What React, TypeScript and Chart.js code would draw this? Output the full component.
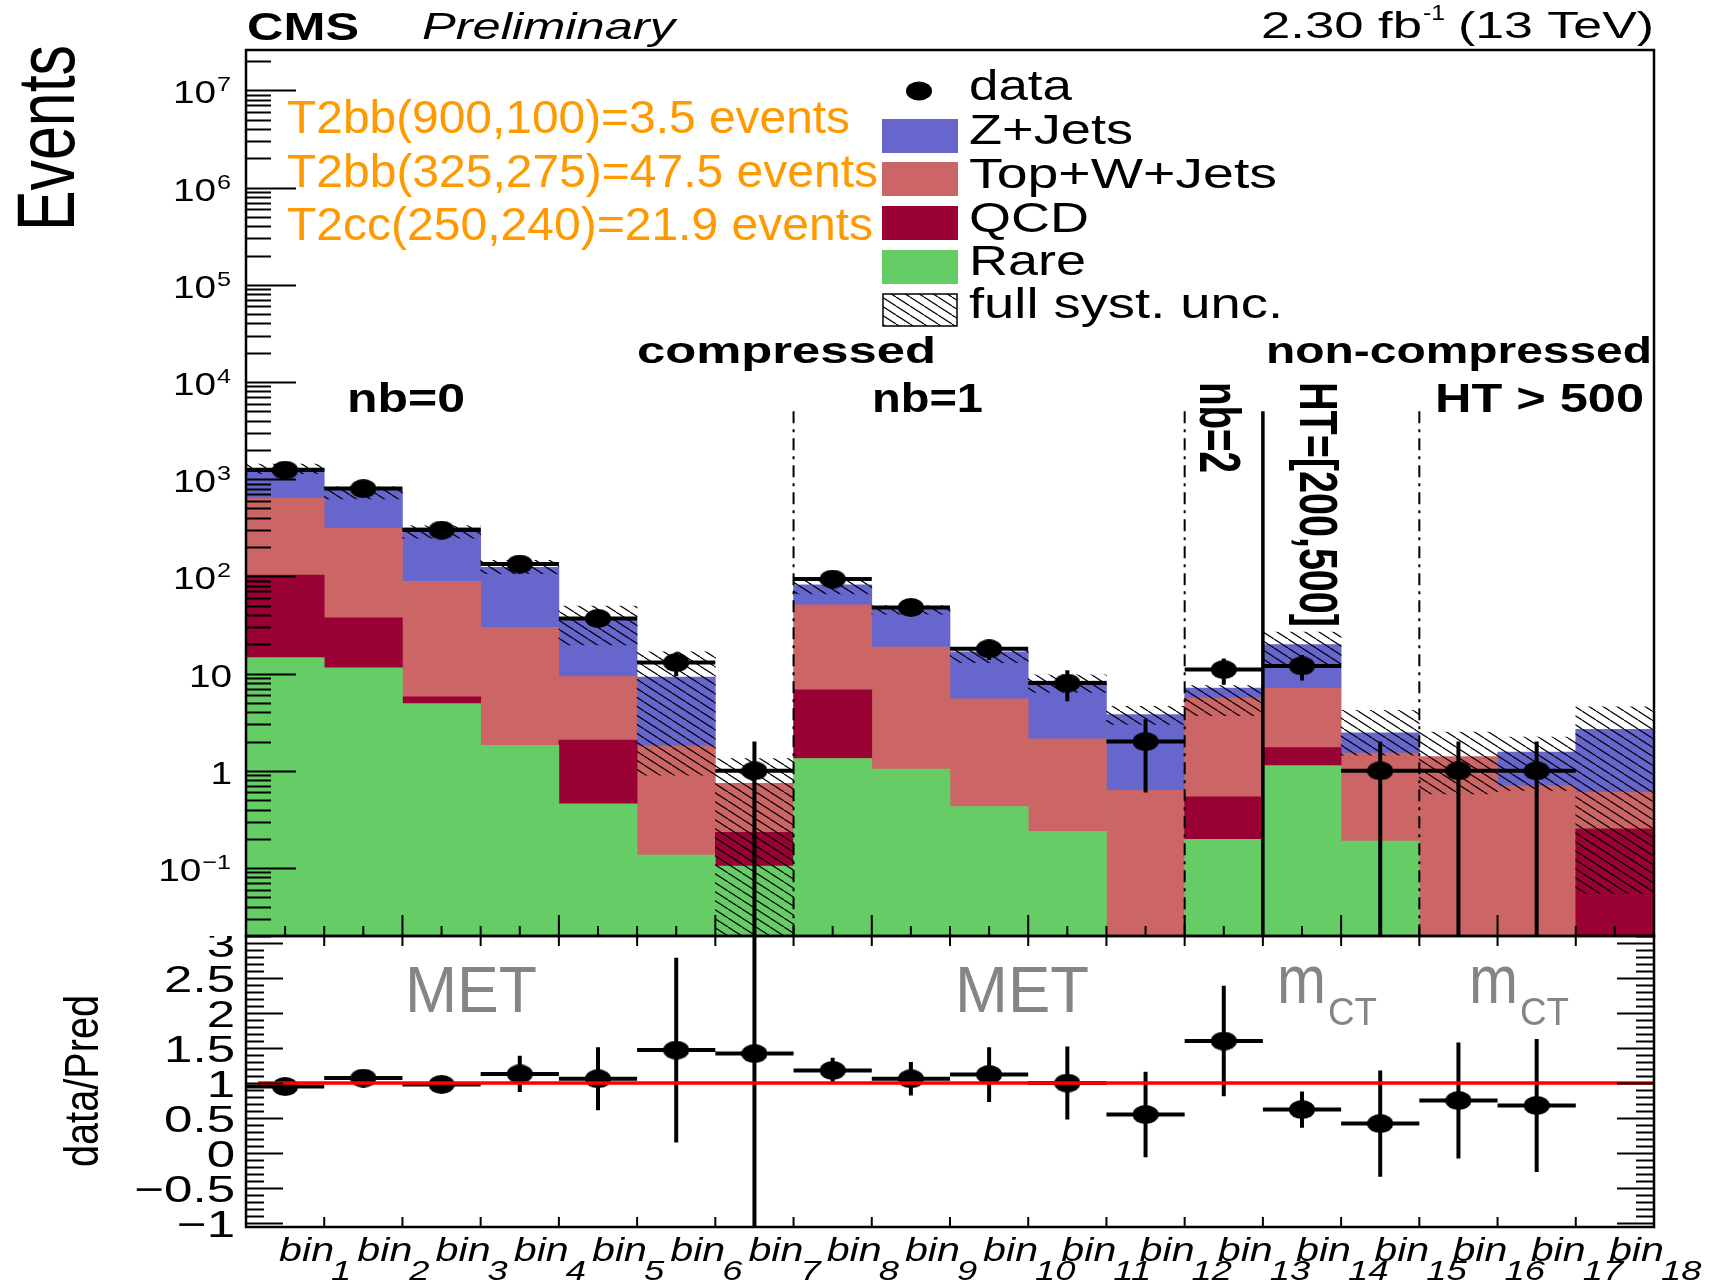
import React, { useEffect, useRef } from 'react';
import { Chart, registerables } from 'chart.js';

Chart.register(...registerables);

// ---------------- data ----------------
const BINS = ['bin1', 'bin2', 'bin3', 'bin4', 'bin5', 'bin6', 'bin7', 'bin8', 'bin9', 'bin10', 'bin11', 'bin12', 'bin13', 'bin14', 'bin15', 'bin16', 'bin17', 'bin18'];

// background components (events), stacked bottom -> top
const RARE = [14.6, 11.5, 4.92, 1.83, 0.457, 0.136, 0.105, 1.34, 1.04, 0.43, 0.239, 0, 0.197, 1.13, 0.189, 0, 0, 0];
const QCD = [88.4, 26.0, 0.85, 0, 1.62, 0, 0.128, 5.46, 0, 0, 0, 0, 0.343, 0.6, 0, 0, 0, 0.253];
const TOP_W_JETS = [531, 274.5, 83.2, 28.1, 7.22, 1.66, 0.512, 44.2, 17.76, 5.07, 1.89, 0.63, 5.06, 5.37, 1.33, 1.4, 0.7, 0.347];
const Z_JETS = [676, 459, 229, 94.1, 27.2, 7.4, 0, 31, 27.2, 11.3, 6.27, 3.17, 1.5, 12.8, 0.94, 0, 0.86, 2.08];

// full systematic uncertainty band (lower / upper edge, events)
const SYST_LO = [1140, 625, 248, 107, 19.7, 0.9, 0, 66, 41, 13, 6.4, 3.0, 3.7, 12.5, 1.45, 0.58, 0.63, 0.055];
const SYST_HI = [1430, 833, 331, 146, 49.6, 16.8, 1.34, 90, 50, 17.5, 9.7, 4.6, 7.55, 26.7, 4.2, 2.5, 2.23, 4.55];

// observed data and its uncertainty
const DATA = [1240, 800, 300, 134, 37, 13, 1, 94, 48, 18, 8, 2, 11, 12, 1, 1, 1, null];
const DATA_ERR = [35, 28, 17, 11.6, 6.1, 3.6, 1, 9.7, 6.9, 4.2, 2.8, 1.4, 3.3, 3.5, 1, 1, 1, null];

// data / prediction ratio
const RATIO = [0.95, 1.07, 0.98, 1.13, 1.06, 1.47, 1.42, 1.18, 1.06, 1.12, 1.0, 0.55, 1.6, 0.62, 0.42, 0.75, 0.68, null];
const RATIO_ERR = [0.03, 0.04, 0.04, 0.26, 0.45, 1.32, 5, 0.18, 0.24, 0.39, 0.52, 0.61, 0.79, 0.26, 0.76, 0.83, 0.95, null];

// axes
const Y_MIN = 0.02;
const Y_MAX = 2.6e7;
const Y_DECADES = [-1, 0, 1, 2, 3, 4, 5, 6, 7];
const R_MIN = -1.057;
const R_MAX = 3.1;
const R_TICKS = [-1, -0.5, 0, 0.5, 1, 1.5, 2, 2.5, 3];

// annotations
const SIGNAL_TEXT = ['T2bb(900,100)=3.5 events', 'T2bb(325,275)=47.5 events', 'T2cc(250,240)=21.9 events'];
const LEGEND_LABELS = ['data', 'Z+Jets', 'Top+W+Jets', 'QCD', 'Rare', 'full syst. unc.'];
const DASHDOT_EDGES = [7, 12, 15];
const SOLID_EDGES = [13];
const REGION_LINE_TOP = 5000;

// ---------------- styles ----------------
const C_Z = '#6666cc';
const C_TOP = '#cc6666';
const C_QCD = '#990033';
const C_RARE = '#66cc66';
const C_SIG = '#ff9900';
const C_GRAY = '#858585';
const FONT = '"Liberation Sans", Arial, Helvetica, sans-serif';

type TxtOpt = {
  size: number;
  weight?: string;
  style?: string;
  color?: string;
  width?: number;
  sx?: number;
  align?: 'left' | 'right' | 'center';
  rot?: number;
};

function txt(ctx: CanvasRenderingContext2D, s: string, x: number, y: number, o: TxtOpt): number {
  const { size, weight = 'normal', style = 'normal', color = '#000', width, sx = 1, align = 'left', rot = 0 } = o;
  ctx.save();
  ctx.translate(x, y);
  if (rot) ctx.rotate(rot);
  ctx.font = `${style} ${weight} ${size}px ${FONT}`;
  ctx.textBaseline = 'alphabetic';
  ctx.textAlign = 'left';
  const m = ctx.measureText(s).width;
  const k = width ? width / m : sx;
  ctx.scale(k, 1);
  const off = align === 'left' ? 0 : align === 'right' ? -m : -m / 2;
  ctx.fillStyle = color;
  ctx.fillText(s, off, 0);
  ctx.restore();
  return m * k;
}

function makeHatch(): CanvasPattern {
  const W = 14;
  const H = 9;
  const c = document.createElement('canvas');
  c.width = W;
  c.height = H;
  const g = c.getContext('2d') as CanvasRenderingContext2D;
  g.strokeStyle = '#000';
  g.lineWidth = 1.2;
  for (const k of [-1, 0, 1]) {
    g.beginPath();
    g.moveTo(k * W, 0);
    g.lineTo((k + 1) * W, H);
    g.stroke();
  }
  return g.createPattern(c, 'repeat') as CanvasPattern;
}

function makeDot(w: number, h: number): HTMLCanvasElement {
  const c = document.createElement('canvas');
  c.width = w;
  c.height = h;
  const g = c.getContext('2d') as CanvasRenderingContext2D;
  g.fillStyle = '#000';
  g.beginPath();
  g.ellipse(w / 2, h / 2, w / 2, h / 2, 0, 0, Math.PI * 2);
  g.fill();
  return c;
}

const COMPONENTS = [RARE, QCD, TOP_W_JETS, Z_JETS];
function floatBars(k: number) {
  return BINS.map((_, i) => {
    let lo = 0;
    for (let j = 0; j < k; j++) lo += COMPONENTS[j][i];
    const v = COMPONENTS[k][i];
    if (!v) return null;
    return [Math.max(lo, Y_MIN), lo + v];
  });
}

function makeDecor(hatch: CanvasPattern) {
  return {
    id: 'cmsDecor',
    afterDatasetsDraw(chart: any) {
      const ctx: CanvasRenderingContext2D = chart.ctx;
      const xs = chart.scales.x;
      const ys = chart.scales.y;
      const yr = chart.scales.yr;
      const ca = chart.chartArea;
      const L = ca.left;
      const R = ca.right;
      const bw = (R - L) / BINS.length;
      const edge = (k: number) => L + k * bw;

      // ---- error bars ----
      const bars = (vals: (number | null)[], errs: (number | null)[], scale: any, logClamp: boolean) => {
        ctx.save();
        ctx.beginPath();
        ctx.rect(L, scale.top, R - L, scale.bottom - scale.top);
        ctx.clip();
        ctx.strokeStyle = '#000';
        ctx.lineWidth = 4;
        ctx.lineCap = 'butt';
        vals.forEach((v, i) => {
          if (v == null) return;
          const cx = xs.getPixelForValue(i);
          const py = scale.getPixelForValue(v);
          const e = errs[i] || 0;
          const hi = scale.getPixelForValue(v + e);
          const loV = v - e;
          const lo = logClamp && loV <= Y_MIN ? scale.bottom : scale.getPixelForValue(loV);
          ctx.beginPath();
          ctx.moveTo(edge(i), py);
          ctx.lineTo(edge(i + 1), py);
          ctx.moveTo(cx, hi);
          ctx.lineTo(cx, lo);
          ctx.stroke();
        });
        ctx.restore();
      };
      bars(DATA, DATA_ERR, ys, true);
      bars(RATIO, RATIO_ERR, yr, false);

      // ---- unity line ----
      ctx.save();
      ctx.strokeStyle = '#ff0000';
      ctx.lineWidth = 3.5;
      const y1 = yr.getPixelForValue(1);
      ctx.beginPath();
      ctx.moveTo(L + 12, y1);
      ctx.lineTo(R, y1);
      ctx.stroke();
      ctx.restore();

      // ---- region separators ----
      const yStart = ys.getPixelForValue(REGION_LINE_TOP);
      ctx.save();
      ctx.strokeStyle = '#000';
      ctx.lineWidth = 2;
      ctx.setLineDash([12, 6, 3, 6]);
      for (const k of DASHDOT_EDGES) {
        ctx.beginPath();
        ctx.moveTo(edge(k), yStart);
        ctx.lineTo(edge(k), ys.bottom);
        ctx.stroke();
      }
      ctx.setLineDash([]);
      ctx.lineWidth = 3.5;
      for (const k of SOLID_EDGES) {
        ctx.beginPath();
        ctx.moveTo(edge(k), yStart);
        ctx.lineTo(edge(k), ys.bottom);
        ctx.stroke();
      }
      ctx.restore();

      // ---- frames & ticks ----
      ctx.save();
      ctx.strokeStyle = '#000';
      ctx.lineCap = 'butt';
      ctx.lineWidth = 2;
      ctx.beginPath();
      // top panel log y ticks
      for (let k = -2; k <= 7; k++) {
        for (let m = 1; m <= 9; m++) {
          const v = m * Math.pow(10, k);
          if (v < Y_MIN * 0.999 || v > Y_MAX) continue;
          const py = Math.round(ys.getPixelForValue(v)) + 0.5;
          const len = m === 1 ? 50 : 25;
          ctx.moveTo(L, py);
          ctx.lineTo(L + len, py);
        }
      }
      // top panel x ticks (bottom edge)
      for (let t = 1; t < BINS.length * 2; t++) {
        const px = L + (t * bw) / 2;
        const len = t % 4 === 0 ? 21 : 10;
        ctx.moveTo(px, ys.bottom);
        ctx.lineTo(px, ys.bottom - len);
      }
      // ratio y ticks (both sides)
      for (let j = -10; j <= 31; j++) {
        const py = Math.round(yr.getPixelForValue(j / 10)) + 0.5;
        const len = j % 5 === 0 ? 37 : 18;
        ctx.moveTo(L, py);
        ctx.lineTo(L + len, py);
        ctx.moveTo(R, py);
        ctx.lineTo(R - len, py);
      }
      // ratio x ticks
      for (let k = 1; k < BINS.length; k++) {
        const px = edge(k);
        ctx.moveTo(px, yr.top);
        ctx.lineTo(px, yr.top + 10);
        ctx.moveTo(px, yr.bottom);
        ctx.lineTo(px, yr.bottom - 10);
      }
      ctx.stroke();
      ctx.lineWidth = 2.5;
      ctx.strokeRect(L, ys.top, R - L, ys.bottom - ys.top);
      ctx.strokeRect(L, yr.top, R - L, yr.bottom - yr.top);
      ctx.restore();

      // ---- tick labels ----
      for (const d of Y_DECADES) {
        const py = ys.getPixelForValue(Math.pow(10, d));
        if (d === 0 || d === 1) {
          txt(ctx, d === 0 ? '1' : '10', 232, py + 13, { size: 31, sx: 1.25, align: 'right' });
        } else {
          const ew = txt(ctx, d < 0 ? '\u2212' + String(-d) : String(d), 231, py + 1, { size: 21, sx: 1.2, align: 'right' });
          txt(ctx, '10', 231 - ew - 1, py + 13, { size: 31, sx: 1.25, align: 'right' });
        }
      }
      ctx.save();
      ctx.beginPath();
      ctx.rect(0, yr.top, L, yr.bottom - yr.top + 30);
      ctx.clip();
      for (const v of R_TICKS) {
        const py = yr.getPixelForValue(v);
        const s = (v < 0 ? '\u2212' : '') + String(Math.abs(v));
        txt(ctx, s, 235, py + 13.5, { size: 37.5, sx: 1.36, align: 'right' });
      }
      ctx.restore();
      BINS.forEach((b, i) => {
        const m = /^(\D+)(\d+)$/.exec(b);
        const head = m ? m[1] : b;
        const sub = m ? m[2] : '';
        const x0 = xs.getPixelForValue(i) - 6;
        const w = txt(ctx, head, x0, 1261, { size: 33, style: 'italic', width: 55 });
        txt(ctx, sub, x0 + w - 3, 1280, { size: 28, style: 'italic', sx: 1.3 });
      });

      // ---- axis titles ----
      txt(ctx, 'Events', 74, 138, { size: 81, width: 186, align: 'center', rot: -Math.PI / 2 });
      txt(ctx, 'data/Pred', 98, 1081, { size: 48, width: 172, align: 'center', rot: -Math.PI / 2 });

      // ---- header ----
      txt(ctx, 'CMS', 247, 40, { size: 38, weight: 'bold', width: 112 });
      txt(ctx, 'Preliminary', 422, 39, { size: 36, style: 'italic', width: 253 });
      txt(ctx, '2.30 fb', 1261, 38, { size: 36, width: 161 });
      txt(ctx, '-1', 1423, 20, { size: 22, width: 22 });
      txt(ctx, '(13 TeV)', 1458, 38, { size: 36, width: 196 });

      // ---- signal yields ----
      const sigW = [563, 591, 586];
      const sigY = [133, 187, 240];
      SIGNAL_TEXT.forEach((s, i) => txt(ctx, s, 287, sigY[i], { size: 46, color: C_SIG, width: sigW[i] }));

      // ---- legend ----
      const legY = [100, 144, 188, 232, 275, 318];
      const legW = [103, 164, 308, 120, 117, 314];
      const boxTop = [0, 119, 162, 206, 250, 294];
      const boxFill = ['', C_Z, C_TOP, C_QCD, C_RARE, 'hatch'];
      ctx.save();
      ctx.fillStyle = '#000';
      ctx.beginPath();
      ctx.ellipse(919, 91, 13, 9.5, 0, 0, Math.PI * 2);
      ctx.fill();
      for (let i = 1; i < 6; i++) {
        if (boxFill[i] === 'hatch') {
          ctx.fillStyle = '#fff';
          ctx.fillRect(883, boxTop[i], 74, 32);
          ctx.fillStyle = hatch;
          ctx.fillRect(883, boxTop[i], 74, 32);
          ctx.strokeStyle = '#000';
          ctx.lineWidth = 1.5;
          ctx.strokeRect(883, boxTop[i], 74, 32);
        } else {
          ctx.fillStyle = boxFill[i];
          ctx.fillRect(882, boxTop[i], 76, 34);
        }
      }
      ctx.restore();
      LEGEND_LABELS.forEach((s, i) => txt(ctx, s, 969, legY[i], { size: 42, width: legW[i] }));

      // ---- region labels ----
      txt(ctx, 'compressed', 637, 363, { size: 37, weight: 'bold', width: 299 });
      txt(ctx, 'non-compressed', 1266, 363, { size: 37, weight: 'bold', width: 386 });
      txt(ctx, 'nb=0', 347, 412, { size: 40, weight: 'bold', width: 118 });
      txt(ctx, 'nb=1', 872, 412, { size: 40, weight: 'bold', width: 111 });
      txt(ctx, 'HT > 500', 1435, 412, { size: 40, weight: 'bold', width: 209 });
      txt(ctx, 'nb=2', 1200, 382, { size: 57, weight: 'bold', width: 91, rot: Math.PI / 2 });
      txt(ctx, 'HT=[200,500]', 1300, 382, { size: 53, weight: 'bold', width: 245, rot: Math.PI / 2 });

      // ---- ratio panel labels ----
      txt(ctx, 'MET', 405, 1012, { size: 65, color: C_GRAY, width: 132 });
      txt(ctx, 'MET', 955, 1012, { size: 65, color: C_GRAY, width: 134 });
      for (const mx of [1277, 1469]) {
        txt(ctx, 'm', mx, 1003, { size: 68, color: C_GRAY, width: 49 });
        txt(ctx, 'CT', mx + 51, 1025, { size: 38, color: C_GRAY, width: 49 });
      }
    },
  };
}

export default function App() {
  const ref = useRef<HTMLCanvasElement | null>(null);

  useEffect(() => {
    const canvas = ref.current;
    if (!canvas) return;
    const hatch = makeHatch();
    const dot = makeDot(26, 19);
    const barCommon = {
      type: 'bar' as const,
      yAxisID: 'y',
      grouped: false,
      barPercentage: 1,
      categoryPercentage: 1,
      borderWidth: 0,
    };
    const chart = new Chart(canvas, {
      type: 'bar',
      data: {
        labels: BINS,
        datasets: [
          { ...barCommon, label: 'Rare', data: floatBars(0) as any, backgroundColor: C_RARE, order: 10 },
          { ...barCommon, label: 'QCD', data: floatBars(1) as any, backgroundColor: C_QCD, order: 10 },
          { ...barCommon, label: 'Top+W+Jets', data: floatBars(2) as any, backgroundColor: C_TOP, order: 10 },
          { ...barCommon, label: 'Z+Jets', data: floatBars(3) as any, backgroundColor: C_Z, order: 10 },
          {
            ...barCommon,
            label: 'full syst. unc.',
            data: BINS.map((_, i) => [Math.max(SYST_LO[i], Y_MIN), SYST_HI[i]]) as any,
            backgroundColor: hatch as any,
            order: 5,
          },
          {
            type: 'line' as const,
            label: 'data',
            data: DATA as any,
            yAxisID: 'y',
            showLine: false,
            pointStyle: dot as any,
            pointRadius: 10,
            order: 1,
          },
          {
            type: 'line' as const,
            label: 'data/Pred',
            data: RATIO as any,
            yAxisID: 'yr',
            showLine: false,
            pointStyle: dot as any,
            pointRadius: 10,
            order: 1,
          },
        ] as any,
      },
      options: {
        responsive: false,
        maintainAspectRatio: false,
        animation: false,
        devicePixelRatio: 1,
        layout: { padding: { left: 246, right: 66, top: 50, bottom: 60 } },
        plugins: { legend: { display: false }, tooltip: { enabled: false }, title: { display: false } },
        events: [],
        scales: {
          x: { type: 'category', labels: BINS, display: false, offset: true },
          y: {
            type: 'logarithmic',
            min: Y_MIN,
            max: Y_MAX,
            display: false,
            position: 'left',
            stack: 'panels',
            stackWeight: 886,
            weight: 2,
          },
          yr: {
            type: 'linear',
            min: R_MIN,
            max: R_MAX,
            display: false,
            position: 'left',
            stack: 'panels',
            stackWeight: 291,
            weight: 1,
          },
        } as any,
      },
      plugins: [makeDecor(hatch)],
    });
    return () => chart.destroy();
  }, []);

  return (
    <div style={{ position: 'fixed', left: 0, top: 0, width: 1720, height: 1287, background: '#fff' }}>
      <canvas ref={ref} width={1720} height={1287} style={{ display: 'block' }} />
    </div>
  );
}
